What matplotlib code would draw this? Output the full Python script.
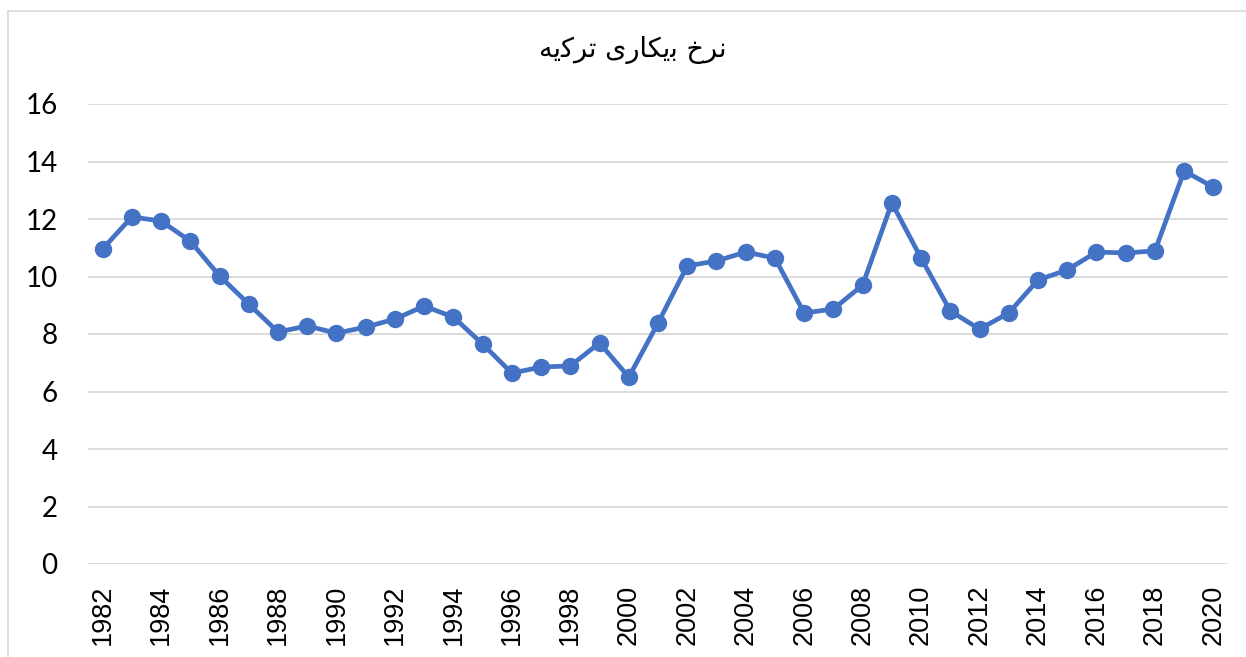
import matplotlib
matplotlib.use("Agg")
import matplotlib.pyplot as plt
from matplotlib.patches import Rectangle

# data
years = list(range(1982, 2021))
rate = [10.96, 12.07, 11.93, 11.23, 10.02, 9.04, 8.07, 8.28, 8.03, 8.24,
        8.52, 8.97, 8.59, 7.65, 6.64, 6.85, 6.89, 7.69, 6.50, 8.38,
        10.37, 10.54, 10.85, 10.64, 8.73, 8.87, 9.70, 12.56, 10.64, 8.80,
        8.17, 8.73, 9.88, 10.23, 10.85, 10.82, 10.89, 13.67, 13.11]
yticks = [0, 2, 4, 6, 8, 10, 12, 14, 16]

# title "نرخ بیکاری ترکیه" written with presentation forms in visual order
title = "\uFEEA\uFBFE\uFB90\uFEAE\uFE97 \uFBFC\uFEAD\uFE8E\uFB91\uFBFE\uFE91 \uFEA5\uFEAE\uFEE7"

fig = plt.figure(figsize=(12.46, 6.57), dpi=100)
fig.patches.append(Rectangle((8 / 1246, -0.1), 1.2, 1.1 - 11 / 657, transform=fig.transFigure,
                             fill=False, edgecolor='#d9d9d9', linewidth=1.2))

ax = fig.add_axes([88 / 1246, 93 / 657, 1140 / 1246, 460 / 657])
x = list(range(len(years)))
ax.plot(x, rate, color='#4472C4', linewidth=3.4, marker='o', markersize=11.5,
        solid_capstyle='round', zorder=3)

ax.set_xlim(-0.5, len(years) - 0.5)
ax.set_ylim(0, 16)
ax.set_yticks(yticks)
ax.set_yticklabels([str(v) for v in yticks], fontfamily='Lato', fontsize=20)
ax.set_xticks(x[::2])
ax.set_xticklabels([str(y) for y in years[::2]], rotation=90, fontfamily='Liberation Sans',
                   fontsize=19.5)
ax.tick_params(axis='y', length=0, pad=22)
ax.tick_params(axis='x', length=0, pad=15)
ax.grid(axis='y', color='#d9d9d9', linewidth=1.3)
ax.set_axisbelow(True)
for s in ax.spines.values():
    s.set_visible(False)

fig.text(633 / 1246, 1 - 50 / 657, title, ha='center', va='center', fontsize=19.5,
         family=['DejaVu Sans', 'Noto Sans'])

fig.savefig("out.png", dpi=100)
